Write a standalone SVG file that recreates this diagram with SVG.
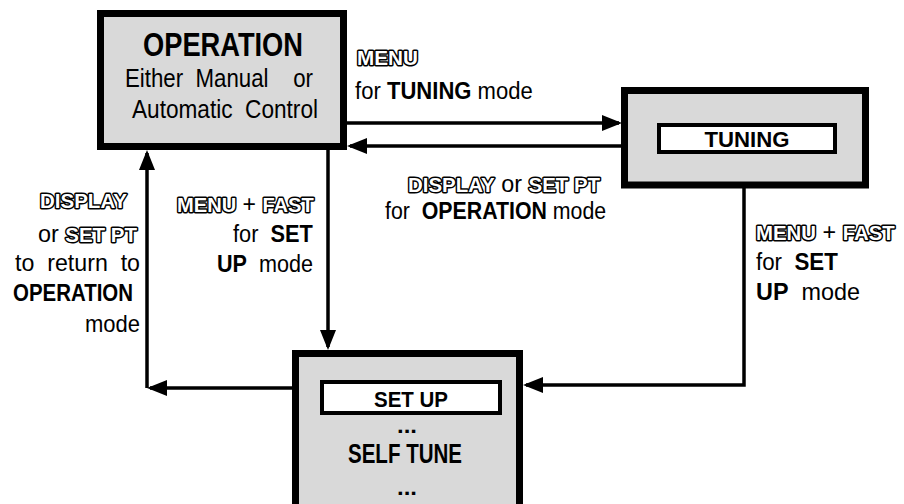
<svg xmlns="http://www.w3.org/2000/svg" width="904" height="504" viewBox="0 0 904 504">
<defs>
<style>
text{font-family:"Liberation Sans",Arial,sans-serif;fill:#000;white-space:pre}
.n{font-size:24px}
.b{font-weight:bold}
.o{font-weight:bold;fill:#fff;stroke:#000;stroke-width:3px;paint-order:stroke;stroke-linejoin:round;font-size:21px}
.box{fill:#d9d9d9;stroke:#000;stroke-width:7}
.inner{fill:#fff;stroke:#000;stroke-width:4}
.c{fill:none;stroke:#000;stroke-width:3.5}
</style>
<marker id="ah" markerUnits="userSpaceOnUse" markerWidth="20" markerHeight="16" refX="17" refY="8" orient="auto" viewBox="0 0 20 16">
<path d="M0,0 L20,8 L0,16 Z" fill="#000"/>
</marker>
</defs>
<rect width="904" height="504" fill="#fff"/>

<g id="connectors">
<path class="c" d="M347,123 H619" marker-end="url(#ah)"/>
<path class="c" d="M621,146 H350" marker-end="url(#ah)"/>
<path class="c" d="M328,150 V347" marker-end="url(#ah)"/>
<path class="c" d="M292,388 H150" marker-end="url(#ah)"/>
<path class="c" d="M147,388 V153" marker-end="url(#ah)"/>
<path class="c" d="M744,188 V385 H526" marker-end="url(#ah)"/>
</g>

<g id="operation">
<rect class="box" x="100.5" y="13.5" width="243" height="133"/>
<text x="223" y="56" text-anchor="middle" class="b" font-size="33" textLength="160" lengthAdjust="spacingAndGlyphs">OPERATION</text>
<text x="125" y="87" font-size="26" textLength="188" lengthAdjust="spacingAndGlyphs">Either  Manual    or</text>
<text x="132" y="118" font-size="26" textLength="186" lengthAdjust="spacingAndGlyphs">Automatic  Control</text>
</g>

<g id="tuning">
<rect class="box" x="624.5" y="90.5" width="241" height="94.5"/>
<rect class="inner" x="659" y="125" width="176" height="27"/>
<text x="747" y="147" text-anchor="middle" class="b" font-size="22" textLength="85" lengthAdjust="spacingAndGlyphs">TUNING</text>
</g>

<g id="setup">
<rect class="box" x="295.5" y="353.5" width="224" height="175"/>
<rect class="inner" x="322" y="382" width="178" height="31"/>
<text x="411" y="407" text-anchor="middle" class="b" font-size="22" textLength="74" lengthAdjust="spacingAndGlyphs">SET UP</text>
<text x="407" y="433" text-anchor="middle" class="b" font-size="22" textLength="20" lengthAdjust="spacingAndGlyphs">...</text>
<text x="405" y="463" text-anchor="middle" class="b" font-size="28" textLength="114" lengthAdjust="spacingAndGlyphs">SELF TUNE</text>
<text x="407" y="495" text-anchor="middle" class="b" font-size="22" textLength="20" lengthAdjust="spacingAndGlyphs">...</text>
</g>

<g id="label-to-tuning">
<text x="357" y="65" class="o" textLength="61" lengthAdjust="spacingAndGlyphs">MENU</text>
<text transform="translate(355,99) scale(0.92,1)" class="n">for <tspan class="b">TUNING</tspan> mode</text>
</g>

<g id="label-to-operation">
<text transform="translate(408,192) scale(0.974,1)" class="n"><tspan class="o">DISPLAY</tspan> or <tspan class="o">SET PT</tspan></text>
<text transform="translate(385,219) scale(0.889,1)" class="n">for  <tspan class="b">OPERATION</tspan> mode</text>
</g>

<g id="label-return">
<text x="40" y="208" class="o" textLength="87" lengthAdjust="spacingAndGlyphs">DISPLAY</text>
<text transform="translate(38,242) scale(0.975,1)" class="n">or <tspan class="o">SET PT</tspan></text>
<text x="15" y="271" class="n" textLength="125" lengthAdjust="spacingAndGlyphs">to  return  to</text>
<text x="13" y="301" class="n b" textLength="120" lengthAdjust="spacingAndGlyphs">OPERATION</text>
<text x="85" y="332" class="n" textLength="55" lengthAdjust="spacingAndGlyphs">mode</text>
</g>

<g id="label-setup-left">
<text transform="translate(177,212) scale(0.958,1)" class="n"><tspan class="o">MENU</tspan> + <tspan class="o">FAST</tspan></text>
<text transform="translate(233,242) scale(0.908,1)" class="n">for  <tspan class="b">SET</tspan></text>
<text transform="translate(217,272) scale(0.9,1)" class="n"><tspan class="b">UP</tspan>  mode</text>
</g>

<g id="label-setup-right">
<text transform="translate(756,240) scale(0.972,1)" class="n"><tspan class="o">MENU</tspan> + <tspan class="o">FAST</tspan></text>
<text transform="translate(756,270) scale(0.931,1)" class="n">for  <tspan class="b">SET</tspan></text>
<text transform="translate(756,300) scale(0.975,1)" class="n"><tspan class="b">UP</tspan>  mode</text>
</g>
</svg>
